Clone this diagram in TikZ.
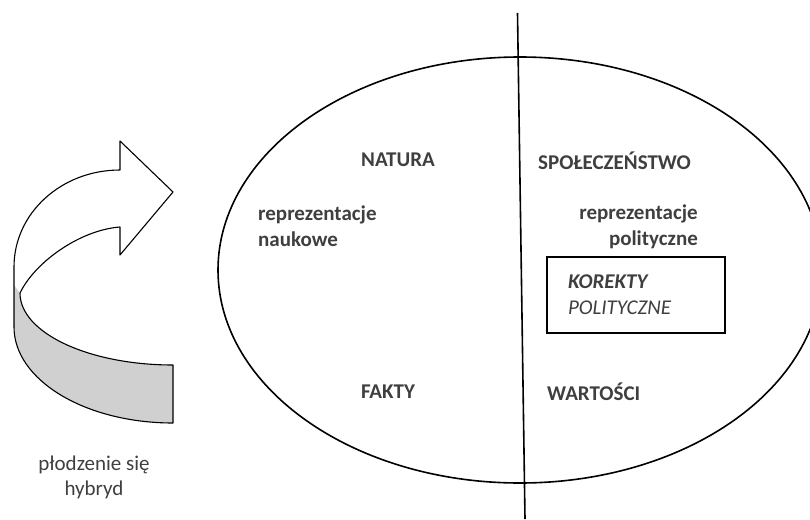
\documentclass[tikz,border=0pt]{standalone}
\usepackage{fontspec}
\setmainfont{Carlito}
\usepackage{xcolor}
\usetikzlibrary{positioning}

\definecolor{txtgray}{HTML}{3F3F3F}
\definecolor{bandgray}{HTML}{D0D0D0}

\begin{document}
\begin{tikzpicture}
        [x=1pt, y=-1pt,
            every node/.style={text=txtgray, font=\fontsize{21}{26}\selectfont, inner sep=0pt},
            heading/.style={font=\fontsize{21}{26}\selectfont\bfseries},
            label/.style={font=\fontsize{21}{26}\selectfont\bfseries, align=left},
            thick line/.style={line width=1.6pt, black},
            outline/.style={line width=1.1pt, black, line join=round}
        ]
        \useasboundingbox (0,0) rectangle (810,519);
        % big ellipse and the dividing line
        \draw[thick line] (520,270) ellipse [x radius=302, y radius=213];
        \coordinate (divtop) at (517.5,13);
        \coordinate (divbot) at (525,519);
        \draw[thick line] (divtop) -- (divbot);
        % texts inside the ellipse
        \node (natura) at (398,160) [heading] {NATURA};
        \node (spol) at (538,161) [heading, anchor=west] {SPOŁECZEŃSTWO};
        \node (repnauk) at (258,226) [label, anchor=west] {reprezentacje\\naukowe};
        \node (reppolit) at (698,227) [label, anchor=east, align=right] {reprezentacje\\polityczne};
        \node (korekty) at (636,295) [draw=black, line width=1.4pt, text width=136pt, inner xsep=21pt, minimum height=76pt, align=left]
            {\textbf{\itshape KOREKTY}\\\itshape POLITYCZNE};
        \node (fakty) at (388,392) [heading] {FAKTY};
        \node (wartosci) at (547,392) [heading, anchor=west] {WARTOŚCI};
        % curved arrow on the left
        \fill[bandgray] (20,293) .. controls (20,333) and (89,365) .. (173,365) -- (173,423)
            .. controls (85,423) and (14,380) .. (14,327) -- (14,285) -- cycle;
        \draw[outline] (20,293) .. controls (20,333) and (89,365) .. (173,365) -- (173,423)
            .. controls (85,423) and (14,380) .. (14,327);
        \draw[outline] (14,327) -- (14,267) .. controls (14,213) and (61.5,170) .. (120,170)
            -- (120,141) -- (173,192) -- (120,255) -- (120,227)
            .. controls (80,230) and (35,262) .. (20,293);
        \node (plodzenie) at (94,477) [align=center, font=\fontsize{21}{25}\selectfont] {płodzenie się\\hybryd};
    \end{tikzpicture}
\end{document}
